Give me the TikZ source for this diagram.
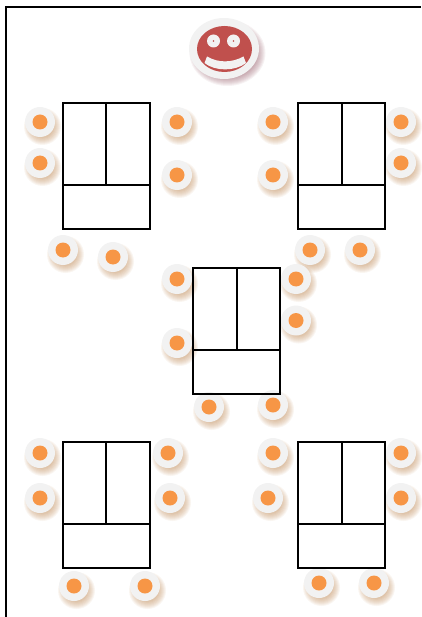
\documentclass[tikz,border=0pt]{standalone}
\usetikzlibrary{calc,shapes.geometric}
\definecolor{seatring}{HTML}{F2F2F2}
\definecolor{seatdot}{HTML}{F79646}
\definecolor{seatglow}{HTML}{B5793F}
\definecolor{facered}{HTML}{C0504D}
\definecolor{faceglow}{HTML}{8A4A58}
\tikzset{
    desk/.style={draw=black, line width=2pt},
    seat/.style={circle, inner sep=0pt, minimum size=30pt, fill=seatring},
    seatdot/.style={circle, inner sep=0pt, minimum size=15pt, fill=seatdot},
    eye/.style={circle, inner sep=0pt, minimum size=13pt, fill=seatring},
    pupil/.style={circle, inner sep=0pt, minimum size=1.6pt, fill=facered},
}
\newcommand{\seatat}[3]{
    \foreach \r in {0,1,...,7} {
        \fill[seatglow, opacity=0.07] (#2+2.5,#3+4.5) circle ({18.5-\r});
    }
    \node[seat] (#1) at (#2,#3) {};
    \node[seatdot] (#1dot) at (#1) {};
}
\begin{document}
\begin{tikzpicture}[x=1pt, y=-1pt]
    \def\lengthA{87}
    \def\heightA{82}
    \def\heightB{44}

    \useasboundingbox (0,0) rectangle (421,617);

    % room
    \draw[line width=2pt] (5.5,617) -- (5.5,7.5) -- (421,7.5);

    % seats
    \foreach \name/\x/\y in {
        tla/40/122, tlb/40/163, tlc/63/250, tld/113/257, tle/177/122, tlf/177/175,
        tra/273/122, trb/273/175, trc/401/122, trd/401/163, tre/310/250, trf/360/250,
        mida/177/279, midb/177/343, midc/296/279, midd/296/320.5, mide/209/407, midf/273/405,
        bla/40/453, blb/40/498, blc/168/453, bld/170/498, ble/74/586, blf/145/586,
        bra/273/453, brb/268/498, brc/401/453, brd/401/498, bre/319/583, brf/374/583} {
        \seatat{\name}{\x}{\y}
    }

    % desks
    \foreach \name/\x/\y in {tl/62.5/103.5, tr/298/103.5, mid/193/268, bl/62.5/441.5, br/298/441.5} {
        \coordinate (\name A) at (\x,\y);
        \draw[desk] (\name A) -- ++(\lengthA,0) coordinate (\name B) -- ++(0,\heightA) coordinate (\name C) -- ++(0,\heightB) coordinate (\name D) -- ++(-\lengthA,0) coordinate (\name E) -- ++(0,-\heightB) coordinate (\name F) -- cycle;
        \draw[desk] (\name F) -- (\name C);
        \draw[desk] ($(\name A)!0.5!(\name B)$) -- ($(\name F)!0.5!(\name C)$);
    }

    % teacher
    \foreach \r in {0,1,...,9} {
        \fill[faceglow, opacity=0.07] (227.5,53) ellipse [x radius={38-\r}, y radius={33-\r}];
    }
    \node[ellipse, inner sep=0pt, minimum width=70pt, minimum height=61pt, fill=seatring] (face) at (224,48.5) {};
    \node[ellipse, inner sep=0pt, minimum width=55pt, minimum height=46pt, fill=facered] (head) at (224.5,49) {};
    \node[eye] (eyeL) at (213.5,41) {};
    \node[eye] (eyeR) at (233.5,41) {};
    \node[pupil] (pupilL) at (eyeL) {};
    \node[pupil] (pupilR) at (eyeR) {};
    \fill[seatring] (207,56.5) .. controls (218,63) and (232,63) .. (243.5,56.5) -- (246,63) .. controls (235,71.5) and (215,71.5) .. (204.5,63) -- cycle;
\end{tikzpicture}
\end{document}
